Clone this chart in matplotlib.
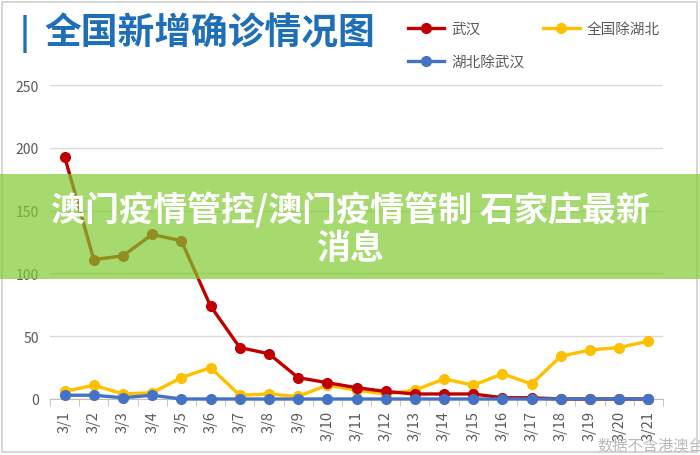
import matplotlib
matplotlib.use('Agg')
import matplotlib.pyplot as plt
from matplotlib.patches import Rectangle

plt.rcParams['font.family'] = ['Noto Sans CJK SC', 'DejaVu Sans']

# dates and daily new confirmed cases
dates = ['3/%d' % d for d in range(1, 22)]
wuhan = [193, 111, 114, 131, 126, 74, 41, 36, 17, 13, 9, 6, 4, 4, 4, 1, 1, 0, 0, 0, 0]
non_hubei = [6, 11, 4, 5, 17, 25, 3, 4, 2, 11, 7, 4, 7, 16, 11, 20, 12, 34, 39, 41, 46]
hubei_ex_wuhan = [3, 3, 1, 3, 0, 0, 0, 0, 0, 0, 0, 0, 0, 0, 0, 0, 0, 0, 0, 0, 0]
yticks = [0, 50, 100, 150, 200, 250]

red = '#c00000'
yellow = '#ffc000'
blue = '#4472c4'
gray = '#595959'

fig = plt.figure(figsize=(7, 4.56), dpi=100)
ax = fig.add_axes([50/700, 56/456, 613/700, 314/456])

x = list(range(len(dates)))
l1, = ax.plot(x, wuhan, color=red, lw=2.4, marker='o', ms=7, label='武汉', clip_on=False, zorder=3)
l2, = ax.plot(x, non_hubei, color=yellow, lw=2.4, marker='o', ms=7, label='全国除湖北', clip_on=False, zorder=2)
l3, = ax.plot(x, hubei_ex_wuhan, color=blue, lw=2.4, marker='o', ms=7, label='湖北除武汉', clip_on=False, zorder=4)

ax.set_xlim(-0.5, len(dates) - 0.5)
ax.set_ylim(0, 250)
ax.set_yticks(yticks)
ax.set_xticks(x)
ax.set_xticklabels(dates, rotation=90)
ax.set_xticks([i - 0.5 for i in range(len(dates) + 1)], minor=True)
ax.tick_params(axis='x', which='major', length=0, pad=8, labelsize=10.5, colors=gray)
ax.tick_params(axis='x', which='minor', length=5, color='#bfbfbf')
ax.tick_params(axis='y', length=0, pad=8, labelsize=10, colors=gray)
ax.grid(axis='y', color='#d9d9d9', lw=1)
ax.set_axisbelow(True)
for s in ['top', 'right', 'left']:
    ax.spines[s].set_visible(False)
ax.spines['bottom'].set_color('#bfbfbf')

# column-wise fill: 武汉 / 湖北除武汉 in the first column, 全国除湖北 in the second
leg = ax.legend([l1, l3, l2], ['武汉', '湖北除武汉', '全国除湖北'],
                loc='upper left', bbox_to_anchor=(408/700, 1.0 - 23/456), bbox_transform=fig.transFigure,
                ncol=2, frameon=False, fontsize=10.5, handlelength=2.5, columnspacing=1.3,
                labelspacing=1.3, handletextpad=0.45, borderaxespad=0, borderpad=0)
for t in leg.get_texts():
    t.set_color(gray)

# title
fig.text(20/700, 1 - 34/456, '|', fontsize=24, color='#1f6fb8', fontweight='bold', va='center')
fig.text(44/700, 1 - 34/456, '全国新增确诊情况图', fontsize=26.5, color='#1f6fb8', fontweight='bold', va='center')

# outer frame
fig.patches.append(Rectangle((2/700, 3/456), 695/700, 450/456, transform=fig.transFigure,
                             fill=False, edgecolor='#d0d0d0', lw=1.2))

# watermark
fig.text(597/700, 1 - 446/456, '数据不含港澳台', fontsize=11, color='#b8b8b8', va='center')

# green banner
fig.patches.append(Rectangle((0, 1 - 280/456), 1, 105/456, transform=fig.transFigure,
                             facecolor=(128/255, 202/255, 48/255), alpha=0.7, edgecolor='none', zorder=5))
fig.text(0.5, 1 - 210/456, '澳门疫情管控/澳门疫情管制 石家庄最新', fontsize=24.5, color='white',
         fontweight='bold', ha='center', va='center', zorder=6)
fig.text(0.5, 1 - 249/456, '消息', fontsize=24.5, color='white',
         fontweight='bold', ha='center', va='center', zorder=6)

fig.savefig('out.png', dpi=100)
